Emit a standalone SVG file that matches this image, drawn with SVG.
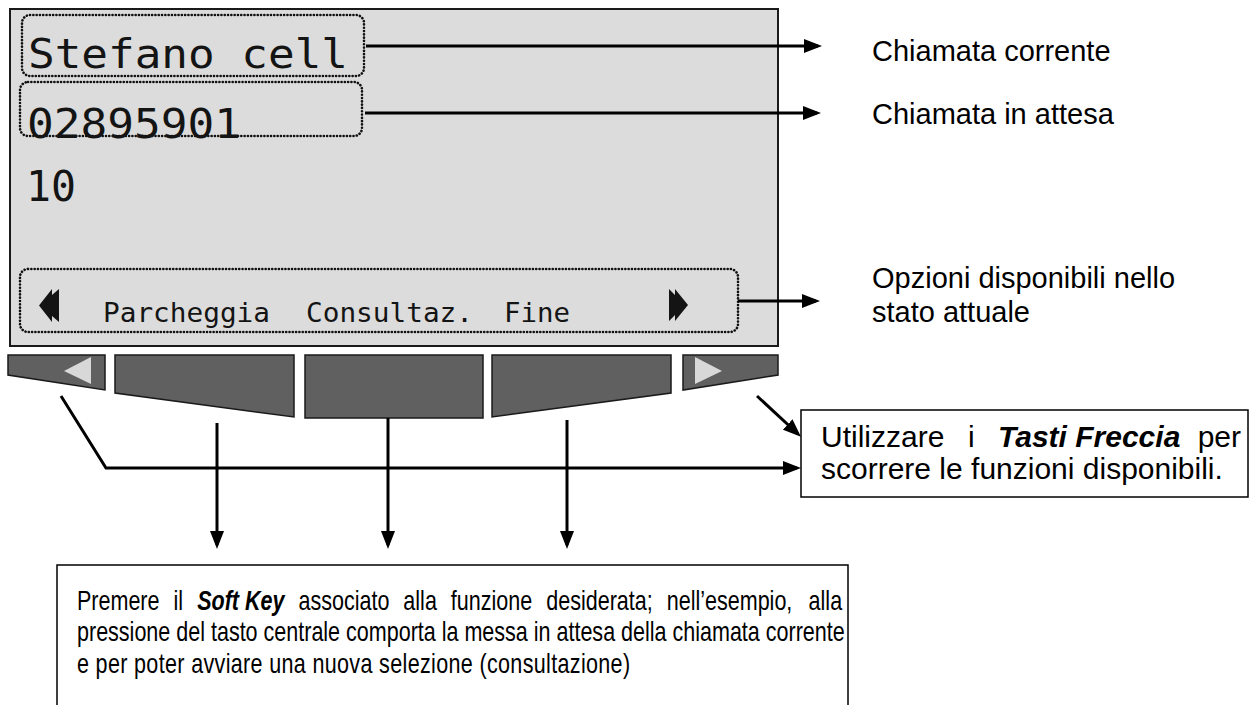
<svg xmlns="http://www.w3.org/2000/svg" width="1250" height="705" viewBox="0 0 1250 705">
<style>
.lcd{font-family:"DejaVu Sans Mono","Liberation Mono",monospace;fill:#141414}
.lbl{font-family:"Liberation Sans",Arial,sans-serif;font-size:29px;fill:#000}
.bx{font-family:"Liberation Sans",Arial,sans-serif;font-size:30px;fill:#000}
.bt{font-family:"Liberation Sans",Arial,sans-serif;font-size:27px;fill:#000}
.bi{font-weight:bold;font-style:italic}
.dot{fill:none;stroke:#111;stroke-width:2.6;stroke-linecap:round;stroke-dasharray:0.1 3.2}
.key{fill:#606060;stroke:#1a1a1a;stroke-width:1.5}
.tri{fill:#d8d8d8}
.glyph{fill:#141414}
.con{fill:none;stroke:#000;stroke-width:3;marker-end:url(#ah)}
.box{fill:#fff;stroke:#000;stroke-width:1.5}
</style>
<defs>
<marker id="ah" markerUnits="userSpaceOnUse" markerWidth="18" markerHeight="14" viewBox="0 0 18 14" refX="14" refY="7" orient="auto">
<path d="M0,0 L18,7 L0,14 z" fill="#000"/>
</marker>
</defs>
<rect width="1250" height="705" fill="#fff"/>

<g id="lcd">
<rect x="10" y="9" width="768" height="337" fill="#dcdcdc" stroke="#1a1a1a" stroke-width="2"/>
</g>

<g id="current-call">
<rect class="dot" x="22" y="15" width="342" height="61" rx="8"/>
<text class="lcd" x="28" y="68" font-size="40" textLength="320" lengthAdjust="spacingAndGlyphs">Stefano cell</text>
</g>

<g id="held-call">
<rect class="dot" x="20" y="82" width="342" height="54" rx="8"/>
<text class="lcd" x="27" y="138" font-size="40" textLength="214" lengthAdjust="spacingAndGlyphs">02895901</text>
</g>

<g id="timer">
<text class="lcd" x="26" y="201" font-size="42" textLength="50" lengthAdjust="spacingAndGlyphs">10</text>
</g>

<g id="options">
<rect class="dot" x="20" y="269" width="718" height="63" rx="8"/>
<polygon class="glyph" points="39,305.5 52,289 52,295 59,289 59,322 52,316 52,322"/>
<text class="lcd" x="103" y="322" font-size="27" textLength="167" lengthAdjust="spacingAndGlyphs">Parcheggia</text>
<text class="lcd" x="306" y="322" font-size="27" textLength="167" lengthAdjust="spacingAndGlyphs">Consultaz.</text>
<text class="lcd" x="504" y="322" font-size="27" textLength="66" lengthAdjust="spacingAndGlyphs">Fine</text>
<polygon class="glyph" points="688,305 675,289 675,295 669,289 669,321 675,315 675,321"/>
</g>

<g id="key-left">
<polygon class="key" points="8,355 105,355 105,390 8,375"/>
<polygon class="tri" points="64,371 91,357 91,384"/>
</g>
<g id="key-2">
<polygon class="key" points="115,355 294,355 294,417 115,393"/>
</g>
<g id="key-3">
<polygon class="key" points="305,355 483,355 483,418 305,418"/>
</g>
<g id="key-4">
<polygon class="key" points="492,355 671,355 671,393 492,417"/>
</g>
<g id="key-right">
<polygon class="key" points="683,355 778,355 778,375 683,390"/>
<polygon class="tri" points="722,371 695,357 695,384"/>
</g>

<g id="connectors">
<line class="con" x1="366" y1="46" x2="818" y2="46"/>
<line class="con" x1="365" y1="113" x2="817" y2="113"/>
<line class="con" x1="738" y1="301" x2="816" y2="301"/>
<polyline class="con" points="61,396 106,468 797,468"/>
<line class="con" x1="757" y1="396" x2="798" y2="434"/>
<line class="con" x1="217" y1="423" x2="217" y2="545"/>
<line class="con" x1="388" y1="418" x2="388" y2="545"/>
<line class="con" x1="567" y1="420" x2="567" y2="545"/>
</g>

<g id="label-current">
<text class="lbl" x="872" y="61">Chiamata corrente</text>
</g>
<g id="label-held">
<text class="lbl" x="872" y="124">Chiamata in attesa</text>
</g>
<g id="label-options">
<text class="lbl" x="872" y="288">Opzioni disponibili nello</text>
<text class="lbl" x="872" y="322">stato attuale</text>
</g>

<g id="arrows-note">
<rect class="box" x="801" y="410" width="447" height="87"/>
<text class="bx" x="821" y="447">Utilizzare</text>
<text class="bx" x="968" y="447">i</text>
<text class="bx bi" x="998" y="447">Tasti Freccia</text>
<text class="bx" x="1241" y="447" text-anchor="end">per</text>
<text class="bx" x="821" y="479">scorrere le funzioni disponibili.</text>
</g>

<g id="softkey-note">
<rect class="box" x="57" y="565" width="791" height="150"/>
<g transform="translate(77,0) scale(0.797,1)">
<text class="bt" x="0" y="610">Premere</text>
<text class="bt" x="121.1" y="610">il</text>
<text class="bt bi" x="150.8" y="610">Soft Key</text>
<text class="bt" x="277.9" y="610">associato</text>
<text class="bt" x="409.5" y="610">alla</text>
<text class="bt" x="469.1" y="610">funzione</text>
<text class="bt" x="588.8" y="610">desiderata;</text>
<text class="bt" x="740" y="610">nell’esempio,</text>
<text class="bt" x="960" y="610" text-anchor="end">alla</text>
<text class="bt" x="0" y="641.5">pressione del tasto centrale comporta la messa in attesa della chiamata corrente</text>
<text class="bt" x="0" y="673" textLength="694" lengthAdjust="spacing">e per poter avviare una nuova selezione (consultazione)</text>
</g>
</g>
</svg>
